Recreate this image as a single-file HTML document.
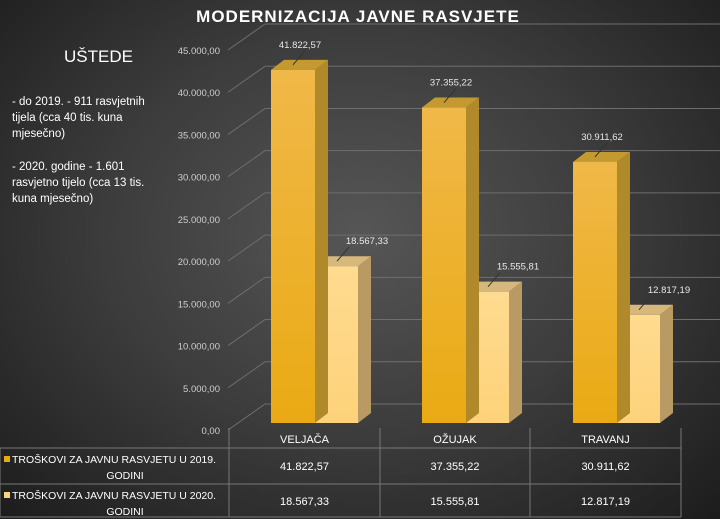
<!DOCTYPE html>
<html><head><meta charset="utf-8">
<style>
html,body{margin:0;padding:0;}
body{width:720px;height:519px;overflow:hidden;background:radial-gradient(ellipse at 50% 45%,#565656 0%,#3c3c3c 50%,#1c1c1c 100%);font-family:"Liberation Sans",sans-serif;}
svg{position:absolute;left:0;top:0;}
.side{position:absolute;color:#fff;font-family:"Liberation Sans",sans-serif;}
</style></head>
<body>
<svg id="chart" width="720" height="519"></svg>
<div class="side" style="left:64px;top:47px;font-size:17px;">UŠTEDE</div>
<div class="side" style="left:12px;top:94px;font-size:11.5px;line-height:16px;width:140px;">- do 2019. - 911 rasvjetnih tijela (cca 40 tis. kuna mjesečno)</div>
<div class="side" style="left:12px;top:159px;font-size:11.5px;line-height:16px;width:140px;">- 2020. godine - 1.601 rasvjetno tijelo (cca 13 tis. kuna mjesečno)</div>
<script>
const categories=["VELJAČA","OŽUJAK","TRAVANJ"];
const values2019=[41822.57,37355.22,30911.62];
const values2020=[18567.33,15555.81,12817.19];
const labels2019=["41.822,57","37.355,22","30.911,62"];
const labels2020=["18.567,33","15.555,81","12.817,19"];
const yTicks=[0,5000,10000,15000,20000,25000,30000,35000,40000,45000];
const yTickLabels=["0,00","5.000,00","10.000,00","15.000,00","20.000,00","25.000,00","30.000,00","35.000,00","40.000,00","45.000,00"];
const seriesNames=["TROŠKOVI ZA JAVNU RASVJETU U 2019. GODINI","TROŠKOVI ZA JAVNU RASVJETU U 2020. GODINI"];

const NS="http://www.w3.org/2000/svg";
const svg=document.getElementById('chart');
const K=380/45000;
const yFront=v=>423-v*K;
const yAxisFront=v=>430-v*K;
const yBack=v=>404-v*K;
const catX=i=>271+i*151;
function mk(tag,attrs,parent){const e=document.createElementNS(NS,tag);for(const k in attrs)e.setAttribute(k,attrs[k]);(parent||svg).appendChild(e);return e;}

const title=mk('text',{x:358,y:22,'text-anchor':'middle','font-size':17,'font-weight':'bold',fill:'#fff','letter-spacing':'1'});


title.textContent="MODERNIZACIJA JAVNE RASVJETE";

yTicks.forEach((t,i)=>{
  const g=mk('polyline',{points:`228,${yAxisFront(t)} 265,${yBack(t)} 720,${yBack(t)}`,fill:'none',stroke:'#6e6e6e','stroke-width':1});
  
  
  const l=mk('text',{x:220,y:yAxisFront(t)+4,'text-anchor':'end','font-size':9.5,fill:'#cfcfcf'});
  
  
  l.textContent=yTickLabels[i];
});

function bar(x,w,v,front,side,top,name){
  const g=mk('g',{});
  
  
  const y=yFront(v),b=423,dx=13,dy=10;
  mk('polygon',{points:`${x+w},${y} ${x+w+dx},${y-dy} ${x+w+dx},${b-dy} ${x+w},${b}`,fill:side},g);
  mk('polygon',{points:`${x},${y} ${x+dx},${y-dy} ${x+w+dx},${y-dy} ${x+w},${y}`,fill:top},g);
  mk('rect',{x:x,y:y,width:w,height:b-y,fill:front},g);
}
const defs=mk('defs',{});
defs.innerHTML='<linearGradient id="g19" x1="0" y1="0" x2="0" y2="1"><stop offset="0" stop-color="#f0b848"/><stop offset="1" stop-color="#eaaa14"/></linearGradient><linearGradient id="g20" x1="0" y1="0" x2="0" y2="1"><stop offset="0" stop-color="#ffdb90"/><stop offset="1" stop-color="#fdd27a"/></linearGradient>';

categories.forEach((c,i)=>{
  const x=catX(i);
  bar(x+44,43,values2020[i],'url(#g20)','#b89a62','#d6b87c','bar-2020-'+i);
  bar(x,44,values2019[i],'url(#g19)','#b08a2a','#c49a30','bar-2019-'+i);
  [[values2019[i],labels2019[i],x+22,'value-label-2019'],[values2020[i],labels2020[i],x+66,'value-label-2020']].forEach(([v,lab,cx,nm])=>{
    const ty=yFront(v)-5;
    mk('line',{x1:cx,y1:ty,x2:cx+12,y2:ty-14,stroke:'#333','stroke-width':1});
    const t=mk('text',{x:cx+(nm.endsWith('2019')?7:30),y:ty-17,'text-anchor':'middle','font-size':9.5,fill:'#e8e8e8'});
    
    
    t.textContent=lab;
  });
});

const colX=[229,380,530,681];
const rowY=[448,484,517];
[[0,448,681,448],[0,484,681,484],[0,517,681,517],[0,448,0,517]].forEach(p=>mk('line',{x1:p[0],y1:p[1],x2:p[2],y2:p[3],stroke:'#777','stroke-width':1}));
colX.forEach(x=>mk('line',{x1:x,y1:428,x2:x,y2:517,stroke:'#777','stroke-width':1}));
categories.forEach((c,i)=>{
  const t=mk('text',{x:(colX[i]+colX[i+1])/2,y:443,'text-anchor':'middle','font-size':11,fill:'#fff'});
  
  
  t.textContent=c;
  [[labels2019[i],470],[labels2020[i],505]].forEach(([lab,yy])=>{
    const d=mk('text',{x:(colX[i]+colX[i+1])/2,y:yy,'text-anchor':'middle','font-size':11,fill:'#fff'});
    
    
    d.textContent=lab;
  });
});
seriesNames.forEach((n,i)=>{
  const y0=rowY[i];
  mk('rect',{x:4,y:y0+8,width:6,height:6,fill:i?'#fdd27a':'#eaaa14'});
  const parts=n.split(' GODINI');
  const a=mk('text',{x:12,y:y0+15,'font-size':10.5,fill:'#fff'});
  
  
  a.textContent=parts[0];
  const b=mk('text',{x:125,y:y0+31,'text-anchor':'middle','font-size':10.5,fill:'#fff'});
  
  
  b.textContent="GODINI";
});
</script>
</body></html>
